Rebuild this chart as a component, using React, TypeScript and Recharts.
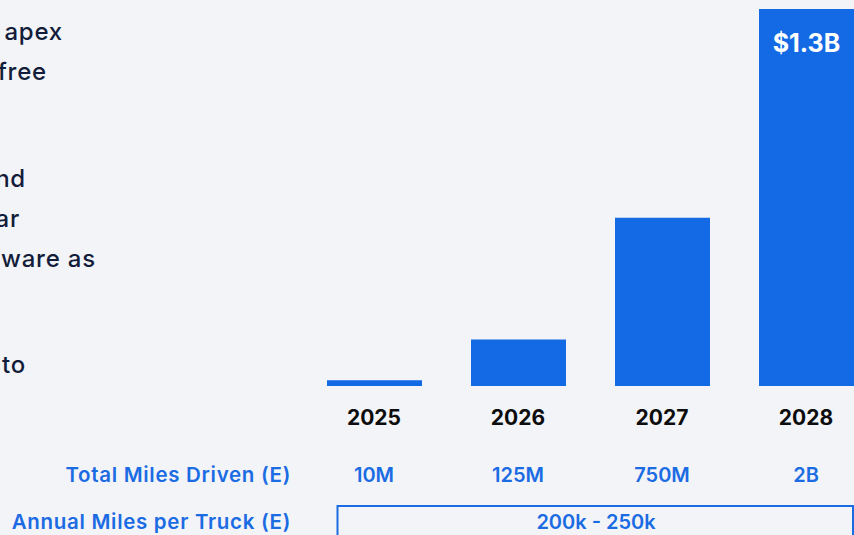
import { BarChart, Bar, XAxis, YAxis, LabelList } from "recharts";

// Revenue by year, $M (estimated)
const years = ["2025", "2026", "2027", "2028"];
const revenue = [20, 160, 580, 1300];
const revenueLabels = ["", "", "", "$1.3B"];
const milesDriven = ["10M", "125M", "750M", "2B"];
const milesPerTruck = "200k - 250k";

// Tail ends of the paragraph lines that run in from the left column
const paragraphTails = ["apex", "free", "nd", "ar", "ware as", "to"];
const paragraphTailEnds = [63, 47, 26, 20, 96, 26];
const paragraphTailRows = [31, 71, 178, 218, 258, 364];

const BG = "#F2F4F8";
const BLUE = "#1469E4";
const LABEL_BLUE = "#1B6BE3";
const NAVY = "#131D3A";
const NUM_FONT = "Inter, 'Liberation Sans', sans-serif";

const chartData = years.map((year, i) => ({
  year,
  revenue: revenue[i],
  label: revenueLabels[i],
  miles: milesDriven[i],
}));

function YearTick(props: any) {
  const { x, y, index } = props;
  return (
    <g>
      <text
        x={x}
        y={y + 31}
        textAnchor="middle"
        dominantBaseline="central"
        fontFamily={NUM_FONT}
        fontWeight={700}
        fontSize={21}
        fill="#0d0d0d"
      >
        {years[index]}
      </text>
      <text
        x={x}
        y={y + 89}
        textAnchor="middle"
        dominantBaseline="central"
        fontFamily={NUM_FONT}
        fontWeight={600}
        fontSize={20}
        fill={LABEL_BLUE}
      >
        {milesDriven[index]}
      </text>
    </g>
  );
}

function TopLabel(props: any) {
  const { x, y, width, value } = props;
  if (!value) return null;
  return (
    <text
      x={x + width / 2}
      y={y + 34}
      textAnchor="middle"
      dominantBaseline="central"
      fontFamily={NUM_FONT}
      fontWeight={700}
      fontSize={25}
      fill="#ffffff"
    >
      {value}
    </text>
  );
}

export default function App() {
  return (
    <div
      style={{
        position: "fixed",
        top: 0,
        left: 0,
        width: 854,
        height: 535,
        overflow: "hidden",
        background: BG,
      }}
    >
      <BarChart
        width={878}
        height={535}
        data={chartData}
        margin={{ top: 9, right: 0, left: 302, bottom: 89 }}
      >
        <XAxis
          dataKey="year"
          axisLine={false}
          tickLine={false}
          tickSize={0}
          tickMargin={0}
          height={60}
          interval={0}
          tick={<YearTick />}
        />
        <YAxis hide domain={[0, 1300]} />
        <Bar dataKey="revenue" fill={BLUE} barSize={95} isAnimationActive={false}>
          <LabelList dataKey="label" content={<TopLabel />} />
        </Bar>
      </BarChart>

      <svg
        width={854}
        height={535}
        style={{ position: "absolute", top: 0, left: 0, pointerEvents: "none" }}
      >
        <g
          fontFamily="Inter, 'Open Sans', sans-serif"
          fontWeight={500}
          fontSize={24}
          letterSpacing={0.8}
          fill={NAVY}
        >
          {paragraphTails.map((t, i) => (
            <text
              key={t}
              x={paragraphTailEnds[i]}
              y={paragraphTailRows[i]}
              textAnchor="end"
              dominantBaseline="central"
            >
              {t}
            </text>
          ))}
        </g>

        <g
          fontFamily="Inter, 'Open Sans', sans-serif"
          fontWeight={600}
          fontSize={20.5}
          letterSpacing={0.7}
          fill={LABEL_BLUE}
        >
          <text x={291} y={474} textAnchor="end" dominantBaseline="central">
            Total Miles Driven (E)
          </text>
          <text x={291} y={521} textAnchor="end" dominantBaseline="central">
            Annual Miles per Truck (E)
          </text>
        </g>

        <rect x={337.5} y={506} width={515.5} height={40} fill="none" stroke={LABEL_BLUE} strokeWidth={2} />
        <text
          x={596}
          y={522}
          textAnchor="middle"
          dominantBaseline="central"
          fontFamily={NUM_FONT}
          fontWeight={600}
          fontSize={20}
          fill={LABEL_BLUE}
        >
          {milesPerTruck}
        </text>
      </svg>
    </div>
  );
}
